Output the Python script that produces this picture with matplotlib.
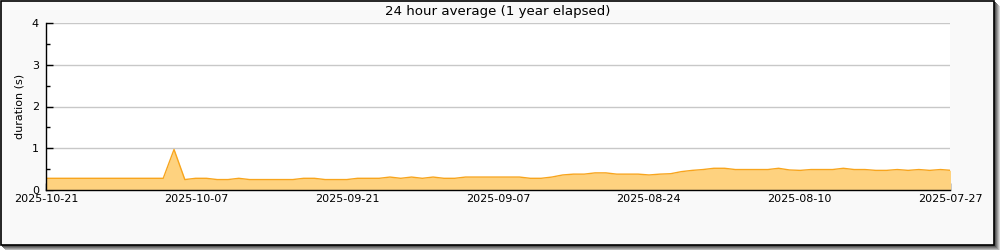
import matplotlib
matplotlib.use("Agg")
import matplotlib.pyplot as plt
from matplotlib.patches import Rectangle
import numpy as np

# ---- data ----
tick_labels = ["2025-10-21", "2025-10-07", "2025-09-21", "2025-09-07",
               "2025-08-24", "2025-08-10", "2025-07-27"]
durations = [
    0.28, 0.28, 0.28, 0.28, 0.28, 0.28, 0.28, 0.28, 0.28, 0.28,   # 0-9
    0.28, 0.28, 0.97, 0.25, 0.28, 0.28, 0.25, 0.25, 0.28, 0.25,   # 10-19
    0.25, 0.25, 0.25, 0.25, 0.28, 0.28, 0.25, 0.25, 0.25, 0.28,   # 20-29
    0.28, 0.28, 0.31, 0.28, 0.31, 0.28, 0.31, 0.28, 0.28, 0.31,   # 30-39
    0.31, 0.31, 0.31, 0.31, 0.31, 0.28, 0.28, 0.31, 0.36, 0.38,   # 40-49
    0.38, 0.41, 0.41, 0.38, 0.38, 0.38, 0.36, 0.38, 0.39, 0.44,   # 50-59
    0.47, 0.49, 0.52, 0.52, 0.49, 0.49, 0.49, 0.49, 0.52, 0.48,   # 60-69
    0.47, 0.49, 0.49, 0.49, 0.52, 0.49, 0.49, 0.47, 0.47, 0.49,   # 70-79
    0.47, 0.49, 0.47, 0.49, 0.47,                                 # 80-84
]
sample_index = np.arange(len(durations))
x_start, x_end = 0.14, 83.88

W, H = 1000, 250
fig = plt.figure(figsize=(W / 100, H / 100), dpi=100, facecolor="white")

# frame with shadow
for k, c in enumerate(["#d8d8d8", "#b8b8b8", "#989898", "#787878", "#585858"]):
    off = 6 - k
    fig.patches.append(Rectangle(((off) / W, (5 - off) / H), 994 / W, 245 / H,
                                 transform=fig.transFigure, facecolor=c,
                                 edgecolor="none", zorder=0))
fig.patches.append(Rectangle((0.5 / W, 5 / H), 993.5 / W, 244.5 / H,
                             transform=fig.transFigure, facecolor="#f9f9f9",
                             edgecolor="black", linewidth=1.2, zorder=1))

ax = fig.add_axes([46 / W, 60 / H, 904 / W, 167 / H])
ax.set_facecolor("white")
ax.set_zorder(2)

ax.fill_between(sample_index, durations, 0, color="#fed27f", linewidth=0, zorder=2)
ax.plot(sample_index, durations, color="#f8a51d", linewidth=1.0, zorder=3)

ax.set_xlim(x_start, x_end)
ax.set_ylim(0, 4)
ax.set_yticks([0, 1, 2, 3, 4])
ax.set_yticks([0.5, 1.5, 2.5, 3.5], minor=True)
major_x = np.linspace(x_start, x_end, len(tick_labels))
ax.set_xticks(major_x)
ax.set_xticklabels(tick_labels)
ax.set_xticks((major_x[:-1] + major_x[1:]) / 2, minor=True)

ax.grid(axis="y", which="major", color="#c8c8c8", linewidth=1.0, zorder=1)
ax.set_axisbelow(True)
for s in ["top", "right"]:
    ax.spines[s].set_visible(False)
for s in ["left", "bottom"]:
    ax.spines[s].set_color("black")
    ax.spines[s].set_linewidth(1.0)
    ax.spines[s].set_zorder(4)

ax.tick_params(axis="both", which="major", direction="in", length=5, width=1,
               labelsize=8, colors="black", pad=3)
ax.tick_params(axis="y", which="minor", direction="in", length=3, width=1)
ax.tick_params(axis="x", which="minor", direction="in", length=5, width=1)
ax.tick_params(axis="y", pad=5)

ax.set_ylabel("duration (s)", fontsize=8, labelpad=5)
ax.set_title("24 hour average (1 year elapsed)", fontsize=9.6, pad=6)

fig.savefig("out.png", dpi=100, facecolor=fig.get_facecolor())
